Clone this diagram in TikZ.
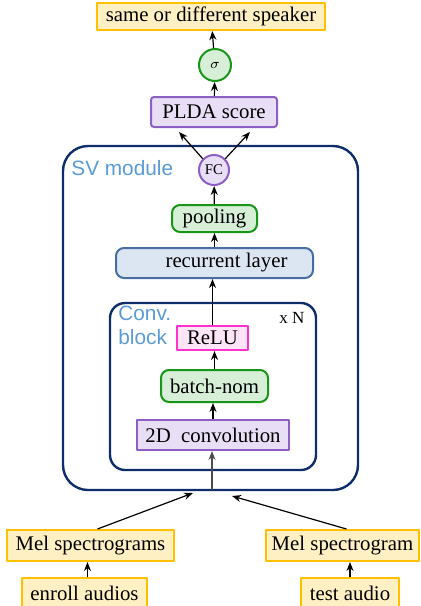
\documentclass[tikz,border=0pt]{standalone}
\usepackage{fontspec}
\usetikzlibrary{arrows.meta}
\setmainfont{Liberation Serif}
\setsansfont{Liberation Sans}
\definecolor{navy}{RGB}{15,45,107}
\definecolor{yelf}{RGB}{255,240,196}
\definecolor{yeld}{RGB}{255,192,0}
\definecolor{grnf}{RGB}{214,239,214}
\definecolor{grnd}{RGB}{25,150,25}
\definecolor{purf}{RGB}{232,222,245}
\definecolor{purd}{RGB}{140,95,195}
\definecolor{recf}{RGB}{220,230,242}
\definecolor{recd}{RGB}{70,110,160}
\definecolor{pnkf}{RGB}{253,228,246}
\definecolor{pnkd}{RGB}{255,51,204}
\definecolor{lblue}{RGB}{91,155,213}
\begin{document}
\begin{tikzpicture}[x=.5pt, y=-.5pt, font=\fontsize{10.4}{12}\selectfont, line join=round, >={Stealth[length=4.5pt,width=3.5pt]},
	box/.style={line width=1pt, inner sep=0pt},
	yel/.style={box, draw=yeld, fill=yelf, minimum height=15.5pt},
	grn/.style={box, draw=grnd, fill=grnf, rounded corners=4pt},
	pur/.style={box, draw=purd, fill=purf},
	blk/.style={draw=navy, line width=1.2pt},
	lbl/.style={font=\sffamily\fontsize{10.4}{12}\selectfont, text=lblue, inner sep=0pt, align=left},
	arr/.style={->, line width=.6pt}]
	\useasboundingbox (0,0) rectangle (420,606);
	\draw[blk, rounded corners=12.5pt](63,146)rectangle(358,490);
	\draw[blk, rounded corners=7.5pt](110,303)rectangle(316,470);
	\node[lbl, anchor=north west] (svl) at (71,160) {SV module};
	\node[lbl, anchor=north west] (cvl) at (118,306) {Conv.\\block};
	\node[inner sep=0pt, font=\fontsize{8.5}{10}\selectfont] (xn) at (292,318) {x N};
	\node[yel, minimum width=114pt, minimum height=13.5pt] (out) at (211,16.5) {same or different speaker};
	\node[grn, circle, minimum size=16pt, font=\fontsize{7.4}{9}\selectfont] (sig) at (215,65) {$\sigma$};
	\node[pur, minimum width=63pt, minimum height=15pt, rounded corners=1.5pt] (plda) at (214,112) {PLDA score};
	\node[pur, circle, minimum size=15pt, font=\fontsize{7.4}{9}\selectfont] (fc) at (214,170) {FC};
	\node[grn, minimum width=42.5pt, minimum height=13.5pt] (pool) at (214.5,218.5) {pooling};
	\node[box, draw=recd, fill=recf, rounded corners=4pt, minimum width=98.5pt, minimum height=15pt] (rec) at (214.5,263) {\hspace*{12pt}recurrent layer};
	\node[box, draw=pnkd, fill=pnkf, minimum width=35.5pt, minimum height=12pt] (relu) at (212.5,338) {ReLU};
	\node[grn, minimum width=53.5pt, minimum height=16pt] (bn) at (214.5,386) {batch-nom};
	\node[pur, minimum width=76pt, minimum height=15pt] (conv) at (213,435) {2D~ convolution};
	\node[yel, minimum width=83.5pt] (mels) at (90.5,545.5) {Mel spectrograms};
	\node[yel, minimum width=76.5pt] (mel) at (342.5,545.5) {Mel spectrogram};
	\node[yel, minimum width=62.5pt] (enr) at (84.5,593.5) {enroll audios};
	\node[yel, minimum width=49pt] (tst) at (350,593.5) {test audio};
	\coordinate (in) at (212,490);
	\coordinate (inl) at (193,493);
	\coordinate (inr) at (232,496);
	\draw[arr](sig)--(out);
	\draw[arr](plda)--(sig);
	\draw[arr](fc.135)--([xshift=-17.5pt,yshift=-2pt]plda.south);
	\draw[arr](fc.45)--([xshift=18pt,yshift=-2pt]plda.south);
	\draw[arr](pool)--(fc);
	\draw[arr](rec)--(pool);
	\draw[arr](relu)--(rec.south -| relu);
	\draw[arr](bn)--(bn |- relu.south);
	\draw[arr](conv)--(conv |- bn.south);
	\draw[arr, black!70](in)--(in |- conv.south);
	\draw[arr]([xshift=3.5pt]mels.north)--(inl);
	\draw[arr]([xshift=2pt]mel.north)--(inr);
	\draw[arr]([xshift=1.5pt]enr.north)--([xshift=1.5pt]enr.north |- mels.south);
	\draw[arr](tst)--(tst |- mel.south);
\end{tikzpicture}
\end{document}
